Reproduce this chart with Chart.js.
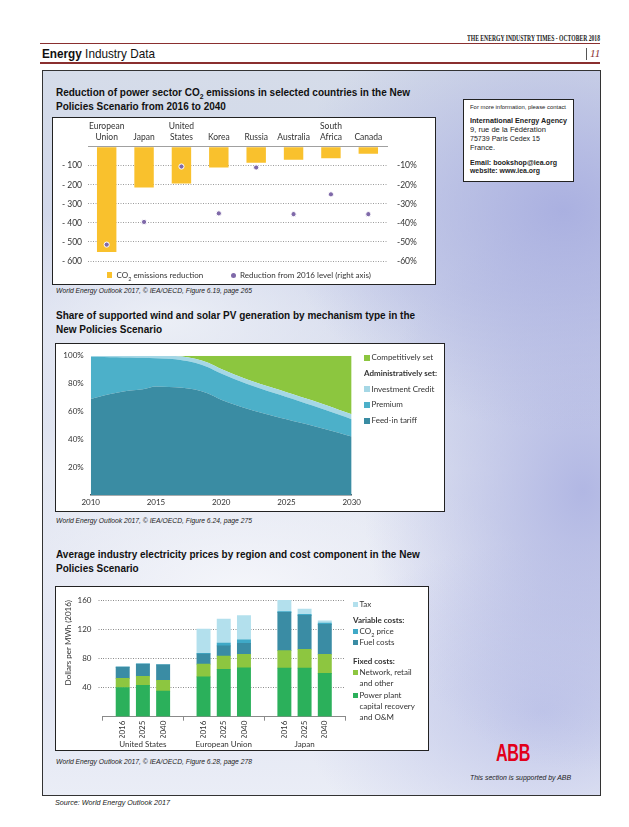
<!DOCTYPE html>
<html><head><meta charset="utf-8">
<script src="https://cdn.jsdelivr.net/npm/chart.js@4.4.1/dist/chart.umd.min.js"></script>
<style>
html,body{margin:0;padding:0;}
body{width:629px;height:827px;background:#fff;position:relative;overflow:hidden;font-family:"Liberation Sans",Arial,sans-serif;color:#111;}
.a{position:absolute;white-space:nowrap;line-height:1;}
.panel{position:absolute;left:42px;top:70px;width:557px;height:724px;border:1px solid #333;
 background:
 radial-gradient(ellipse 280px 220px at 520px 140px, rgba(168,174,224,0.95), rgba(168,174,224,0) 100%),
 radial-gradient(ellipse 220px 280px at 540px 420px, rgba(172,178,226,0.9), rgba(172,178,226,0) 100%),
 radial-gradient(ellipse 240px 170px at 500px 640px, rgba(188,194,232,0.85), rgba(188,194,232,0) 100%),
 radial-gradient(ellipse 260px 120px at 120px 250px, rgba(238,241,247,0.9), rgba(238,241,247,0) 100%),
 radial-gradient(ellipse 300px 140px at 200px 520px, rgba(246,247,251,0.95), rgba(246,247,251,0) 100%),
 linear-gradient(180deg,#d5dce9 0%,#d0d6eb 30%,#e4e8f2 55%,#dde1f0 75%,#eaedf6 100%);}
.box{position:absolute;background:#fff;border:1px solid #222;}
.title{font-weight:bold;font-size:11px;color:#111;transform-origin:0 50%;}
.fn{font-style:italic;font-size:7px;color:#222;transform-origin:0 50%;}
.lg{position:absolute;white-space:nowrap;font-family:Lato,"Open Sans",sans-serif;font-size:8px;color:#333;line-height:1;}
.sw{position:absolute;}
canvas{position:absolute;left:0;top:0;}
.info{position:absolute;left:470px;white-space:nowrap;line-height:1;color:#222;transform-origin:0 50%;}
</style></head>
<body>
<!-- header -->
<div class="a" id="hdr" style="left:467px;top:35px;font-family:'Liberation Serif',serif;font-weight:bold;font-size:7.5px;color:#222;transform-origin:0 50%;">THE ENERGY INDUSTRY TIMES - OCTOBER 2018</div>
<div class="a" style="left:40px;top:43px;width:560px;height:1px;background:#8a2f2f;"></div>
<div class="a" id="eid" style="left:42px;top:47px;font-size:13.5px;color:#111;transform-origin:0 50%;"><b>Energy</b> Industry Data</div>
<div class="a" style="left:586px;top:48px;width:1px;height:12px;background:#555;"></div>
<div class="a" style="left:590px;top:48px;font-family:'Liberation Serif',serif;font-style:italic;font-size:11px;color:#8a2f2f;">11</div>
<div class="a" style="left:40px;top:62px;width:560px;height:2px;background:#8a2f2f;"></div>

<div class="panel"></div>

<!-- info box -->
<div class="box" style="left:463px;top:99px;width:109px;height:81px;"></div>
<div class="info" id="i0" style="top:105px;font-size:5.2px;">For more information, please contact</div>
<div class="info" id="i1" style="top:117px;font-size:7px;font-weight:bold;">International Energy Agency</div>
<div class="info" id="i2" style="top:126px;font-size:7px;">9, rue de la Fédération</div>
<div class="info" id="i3" style="top:135px;font-size:7px;">75739 Paris Cedex 15</div>
<div class="info" id="i4" style="top:144px;font-size:7px;">France.</div>
<div class="info" id="i5" style="top:160px;font-size:6.4px;font-weight:bold;">Email: bookshop@iea.org</div>
<div class="info" id="i6" style="top:168px;font-size:6.4px;font-weight:bold;">website: www.iea.org</div>

<!-- titles -->
<div class="a title" id="t1a" style="left:56px;top:87px;">Reduction of power sector CO<sub style="font-size:7.5px;line-height:0;">2</sub> emissions in selected countries in the New</div>
<div class="a title" style="left:56px;top:101px;">Policies Scenario from 2016 to 2040</div>
<div class="a title" style="left:56px;top:310px;">Share of supported wind and solar PV generation by mechanism type in the</div>
<div class="a title" style="left:56px;top:324px;">New Policies Scenario</div>
<div class="a title" style="left:56px;top:549px;">Average industry electricity prices by region and cost component in the New</div>
<div class="a title" style="left:56px;top:563px;">Policies Scenario</div>

<!-- chart boxes -->
<div class="box" style="left:52px;top:117px;width:382px;height:166px;"><canvas id="c1" width="382" height="166" style="width:382px;height:166px;"></canvas></div>
<div class="box" style="left:55px;top:343px;width:388px;height:167px;"><canvas id="c2" width="388" height="167" style="width:388px;height:167px;"></canvas></div>
<div class="box" style="left:55px;top:586px;width:372px;height:163px;"><canvas id="c3" width="372" height="163" style="width:372px;height:163px;"></canvas></div>

<!-- footnotes -->
<div class="a fn" id="fn1" style="left:56px;top:287px;">World Energy Outlook 2017, © IEA/OECD, Figure 6.19, page 265</div>
<div class="a fn" id="fn2" style="left:56px;top:517px;">World Energy Outlook 2017, © IEA/OECD, Figure 6.24, page 275</div>
<div class="a fn" id="fn3" style="left:56px;top:758px;">World Energy Outlook 2017, © IEA/OECD, Figure 6.28, page 278</div>
<div class="a fn" id="src" style="left:55px;top:799px;">Source: World Energy Outlook 2017</div>

<!-- ABB -->
<div class="a" id="abb" style="left:496px;top:742px;font-family:'Liberation Sans',Arial,sans-serif;font-weight:bold;font-size:23px;color:#e2001a;letter-spacing:-0.5px;transform-origin:0 50%;">ABB</div>
<div class="a fn" id="abbt" style="left:470px;top:774px;">This section is supported by ABB</div>

<div id="legends"></div>

<script>
// ---------- Chart 1 data ----------
const co2Countries = [['European','Union'],'Japan',['United','States'],'Korea','Russia','Australia',['South','Africa'],'Canada'];
const co2Reduction = [-553,-214,-193,-109,-84,-68,-60,-37];          // Mt CO2 (left axis)
const co2ReductionPct = [-51.4,-39.5,-10.4,-35,-10.9,-35.4,-25,-35.4]; // % vs 2016 (right axis)
const co2Series = ['CO₂ emissions reduction','Reduction from 2016 level (right axis)'];

// ---------- Chart 2 data ----------
const mechYears = [2010,2011,2012,2013,2014,2015,2016,2017,2018,2019,2020,2021,2022,2023,2024,2025,2026,2027,2028,2029,2030];
const feedInTariff     = [69,71.5,73.5,75,76,78,77.5,77,75.8,73,68.5,65,62,59.3,56.8,54.4,52,49.7,47.3,44.8,42];
const premium          = [30.3,27.7,25.5,23.8,22.6,20.3,20.3,19.8,19.2,18.8,18.7,18.3,17.7,17.2,16.6,16,15.4,14.6,13.8,13,12.5];
const investmentCredit = [0.7,0.8,1,1.2,1.4,1.7,2.2,2.7,2.8,3.2,3.3,3.2,3.3,3.3,3.4,3.4,3.4,3.5,3.5,3.5,3.5];
const competitivelySet = [0,0,0,0,0,0,0,0.5,2.2,5,9.5,13.5,17,20.2,23.2,26.2,29.2,32.2,35.4,38.7,42];
const mechTicks = [20,40,60,80,100];

// ---------- Chart 3 data ----------
const priceRegions = ['United States','European Union','Japan'];
const priceYears = ['2016','2025','2040'];
const powerPlant = [40,43,35, 54.5,65,67, 66.5,66.5,59.5];
const networkRetail = [12.5,12.5,15, 17.5,18,18.5, 24,26,26];
const fuelCosts = [15.5,16.5,21, 14,14,15, 52.5,46.5,41];
const co2Price = [0,0,0, 1,4,5, 1,1.5,2];
const tax = [0,0.8,0, 33,33,33, 16,7,3];
const priceTicks = [40,80,120,160];

Chart.defaults.font.family = 'Lato, "Open Sans", sans-serif';
Chart.defaults.font.size = 8;
Chart.defaults.color = '#333';
Chart.defaults.animation = false;
Chart.defaults.plugins.legend.display = false;
Chart.defaults.plugins.tooltip.enabled = false;

const YELLOW = '#f9c12d', PURPLE = '#7f69a9';

// ---------- Chart 1 ----------
new Chart(document.getElementById('c1'), {
  data: {
    labels: co2Countries,
    datasets: [
      {type:'bar', label:co2Series[0], data: co2Reduction, backgroundColor: YELLOW, yAxisID:'y', barPercentage:0.52, categoryPercentage:1, order:2},
      {type:'line', label:co2Series[1], data: co2ReductionPct, yAxisID:'y2', showLine:false, pointRadius:2.6, pointBackgroundColor: PURPLE, pointBorderColor:'#fff', pointBorderWidth:1, order:1}
    ]
  },
  options: {
    responsive:false, maintainAspectRatio:false,
    layout:{padding:{left:0,right:0,top:0,bottom:23}},
    scales:{
      x:{position:'top', grid:{display:false, drawTicks:false}, border:{display:true,color:'#a0a0a0'},
         ticks:{padding:3.5, font:{size:8.5, lineHeight:1.3}, maxRotation:0, autoSkip:false}, afterFit:s=>{s.height=28.7;}},
      y:{position:'left', min:-600, max:0,
         ticks:{stepSize:100, padding:6, font:{size:8.5}, callback:v=> v===0?'':'- '+Math.abs(v)},
         grid:{color:c=> (c.tick && c.tick.value===0)?'rgba(0,0,0,0)':'#9c9c9c', drawTicks:false, lineWidth:1},
         border:{display:false, dash:[1,1.5]}, afterFit:s=>{s.width=35;}},
      y2:{position:'right', min:-60, max:0,
          ticks:{stepSize:10, padding:10, font:{size:8.5}, callback:v=> v===0?'':v+'%'},
          grid:{display:false, drawTicks:false}, border:{display:false}, afterFit:s=>{s.width=48;}}
    }
  }
});

// ---------- Chart 2 ----------
const toXY = arr => mechYears.map((yr,i)=>({x:yr, y:arr[i]}));
const areaColors = {feed:'#3a8ca3', prem:'#4cb0c9', inv:'#a5d7e5', comp:'#8cc63f'};
new Chart(document.getElementById('c2'), {
  type:'line',
  data:{datasets:[
    {label:'Feed-in tariff', data:toXY(feedInTariff), backgroundColor:areaColors.feed, fill:'origin'},
    {label:'Premium', data:toXY(premium), backgroundColor:areaColors.prem, fill:'-1'},
    {label:'Investment Credit', data:toXY(investmentCredit), backgroundColor:areaColors.inv, fill:'-1'},
    {label:'Competitively set', data:toXY(competitivelySet), backgroundColor:areaColors.comp, fill:'-1'}
  ]},
  options:{
    responsive:false, maintainAspectRatio:false,
    elements:{line:{borderWidth:0, borderColor:'rgba(0,0,0,0)', tension:0.4, cubicInterpolationMode:'monotone'}, point:{radius:0}},
    layout:{padding:{top:9.3,right:92.3,left:0,bottom:0}},
    scales:{
      x:{type:'linear', min:2010, max:2030, offset:false,
         ticks:{stepSize:5, padding:3, callback:v=>String(v)},
         grid:{display:false, drawTicks:false}, border:{display:true,color:'#4f5a5e',width:1.5}, afterFit:s=>{s.height=16;}},
      y:{stacked:true, min:0, max:100,
         afterBuildTicks:s=>{s.ticks = mechTicks.map(v=>({value:v}));},
         ticks:{padding:7, callback:v=>v+'%'},
         grid:{display:false, drawTicks:false}, border:{display:false}, afterFit:s=>{s.width=34.7;}}
    }
  }
});

// ---------- Chart 3 ----------
const barPos = [];
priceRegions.forEach((r,g)=>priceYears.forEach((yr,i)=>barPos.push(g*4+i+1)));
const groupCenters = priceRegions.map((r,g)=>g*4+2);
const groupEdges = priceRegions.map((r,g)=>g*4).concat([priceRegions.length*4]);
const xy3 = arr => barPos.map((p,i)=>({x:p, y:arr[i]}));
const c3colors = {power:'#2bb05b', net:'#8dc640', fuel:'#3a8ca4', co2:'#3fa9c7', tax:'#b3e0ed'};
new Chart(document.getElementById('c3'), {
  type:'bar',
  data:{datasets:[
    {label:'Power plant capital recovery and O&M', data:xy3(powerPlant), backgroundColor:c3colors.power},
    {label:'Network, retail and other', data:xy3(networkRetail), backgroundColor:c3colors.net},
    {label:'Fuel costs', data:xy3(fuelCosts), backgroundColor:c3colors.fuel},
    {label:'CO₂ price', data:xy3(co2Price), backgroundColor:c3colors.co2},
    {label:'Tax', data:xy3(tax), backgroundColor:c3colors.tax}
  ]},
  options:{
    responsive:false, maintainAspectRatio:false,
    datasets:{bar:{barThickness:13.3}},
    layout:{padding:{top:13,right:83,left:8,bottom:0}},
    scales:{
      x:{type:'linear', min:0, max:priceRegions.length*4, stacked:true, offset:false,
         afterBuildTicks:s=>{const t=[]; for(let v=0; v<=priceRegions.length*4; v++) t.push({value:v}); s.ticks=t;},
         ticks:{autoSkip:false, minRotation:90, maxRotation:90, padding:0,
                callback:v=>{const k=barPos.indexOf(v); return k<0?'':priceYears[k%3];}},
         grid:{offset:false, drawOnChartArea:false, drawTicks:true, tickLength:4,
               color:c=> (c.tick && groupEdges.includes(c.tick.value))?'#8a8a8a':'rgba(0,0,0,0)'},
         border:{display:true,color:'#8a8a8a'}, afterFit:s=>{s.height=21;}},
      x2:{type:'linear', position:'bottom', min:0, max:priceRegions.length*4, offset:false,
          afterBuildTicks:s=>{s.ticks=groupCenters.map(v=>({value:v}));},
          ticks:{autoSkip:false, maxRotation:0, minRotation:0, padding:2, callback:(v,i)=>priceRegions[i]},
          grid:{offset:false, display:false, drawTicks:false}, border:{display:false}, afterFit:s=>{s.height=12.3;}},
      y:{stacked:true, min:0, max:160,
         afterBuildTicks:s=>{s.ticks=[0].concat(priceTicks).map(v=>({value:v}));},
         ticks:{padding:7, callback:v=>v===0?'':String(v)},
         grid:{color:c=> (c.tick && c.tick.value===0)?'rgba(0,0,0,0)':'#8c8c8c', tickLength:4, tickBorderDash:[1,1.5]},
         border:{display:false, dash:[1,1.5]},
         title:{display:true, text:'Dollars per MWh (2016)', align:'end', padding:0, font:{size:8}},
         afterFit:s=>{s.width=38.5;}}
    }
  }
});

// ---------- HTML legends ----------
const L = document.getElementById('legends');
function txt(x, yc, t, extra){ const d=document.createElement('div'); d.className='lg'; d.style.left=x+'px'; d.style.top=(yc-4.5)+'px'; d.innerHTML=t; if(extra) d.style.cssText+=extra; L.appendChild(d); return d; }
function sq(x, yc, s, col, round){ const d=document.createElement('div'); d.className='sw'; d.style.cssText=`left:${x}px;top:${yc-s/2}px;width:${s}px;height:${s}px;background:${col};`+(round?'border-radius:50%;':''); L.appendChild(d); }
// chart 1
sq(106.5,275,5.5,YELLOW); txt(116.5,275,'CO<sub style="font-size:5.5px;line-height:0">2</sub> emissions reduction');
sq(231,275,5,PURPLE,true); txt(240,275,co2Series[1]);
// chart 2
sq(364,357.5,6,areaColors.comp); txt(371.5,357.5,'Competitively set');
txt(364,373.5,'Administratively set:','font-weight:bold;');
sq(364,389,6,areaColors.inv); txt(371.5,389,'Investment Credit');
sq(364,404.5,6,areaColors.prem); txt(371.5,404.5,'Premium');
sq(364,420.5,6,areaColors.feed); txt(371.5,420.5,'Feed-in tariff');
// chart 3
sq(353,604,5,c3colors.tax); txt(359.5,604,'Tax');
txt(353,620,'Variable costs:','font-weight:bold;');
sq(353,631.5,5,c3colors.co2); txt(359.5,631.5,'CO<sub style="font-size:5.5px;line-height:0">2</sub> price');
sq(353,642.5,5,c3colors.fuel); txt(359.5,642.5,'Fuel costs');
txt(353,661,'Fixed costs:','font-weight:bold;');
sq(353,672.5,5,c3colors.net); txt(359.5,672.5,'Network, retail');
txt(359.5,683.5,'and other');
sq(353,695,5,c3colors.power); txt(359.5,695,'Power plant');
txt(359.5,706,'capital recovery');
txt(359.5,717,'and O&amp;M');

// ---------- fit text widths ----------
function fit(id, w){ const e=document.getElementById(id); const r=e.getBoundingClientRect().width; const k=w/r; e.style.transform='scaleX('+k+')'; return k; }
const k = fit('t1a',354);
document.querySelectorAll('.title').forEach(e=>{e.style.transform='scaleX('+k+')';});
fit('hdr',133); fit('eid',113); fit('fn1',196); fit('fn2',196); fit('fn3',196); fit('src',115); fit('abbt',101);
fit('i0',96); fit('i1',97); fit('i2',76); fit('i3',70); fit('i4',25); fit('i5',87); fit('i6',70); fit('abb',34);
</script>
</body></html>
